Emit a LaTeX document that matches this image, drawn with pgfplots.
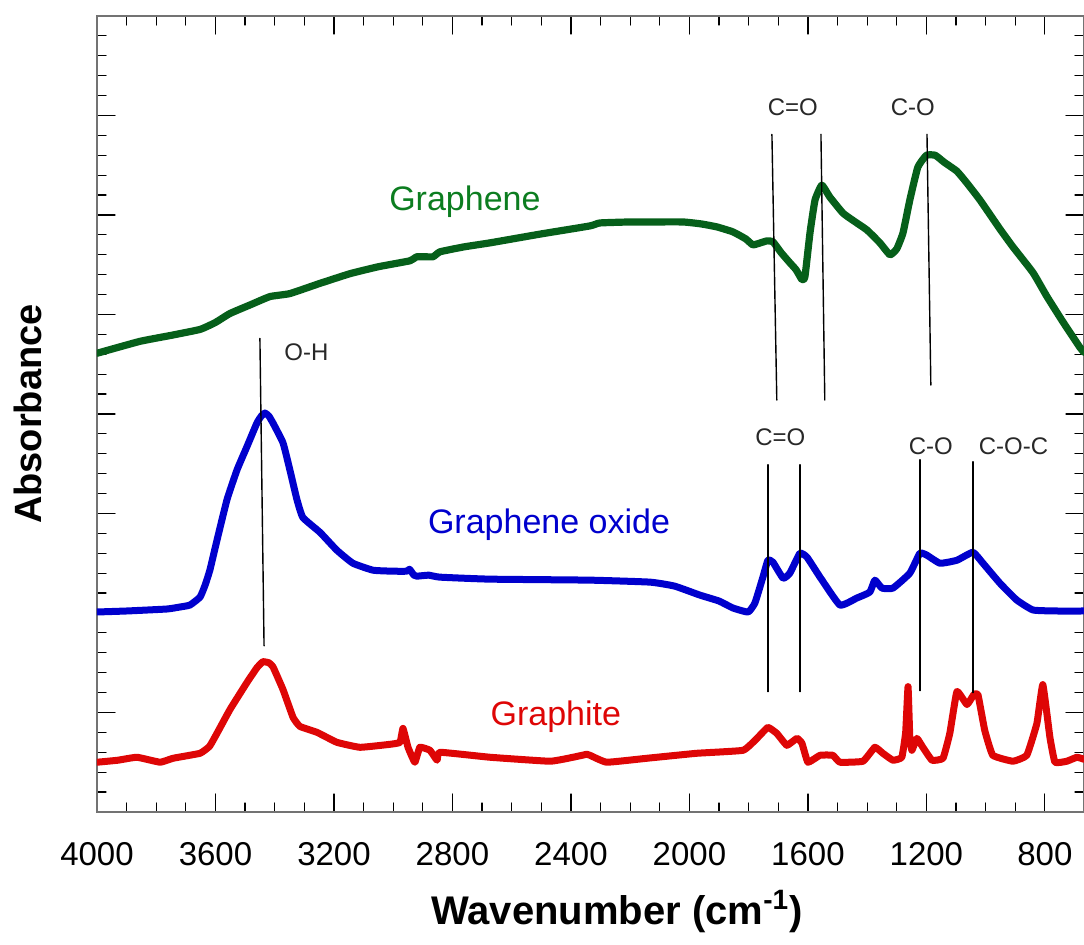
\documentclass[border=0pt]{standalone}
\usepackage{fontspec}
\setmainfont{Liberation Sans}
\usepackage{pgfplots}
\pgfplotsset{compat=1.18}
\definecolor{gline}{RGB}{6,95,26}
\definecolor{gtext}{RGB}{12,125,32}
\definecolor{bline}{RGB}{0,0,205}
\definecolor{rline}{RGB}{222,6,6}
\definecolor{anno}{RGB}{40,40,40}
\begin{document}
\begin{tikzpicture}
\useasboundingbox (-48.5pt,-66.5pt) rectangle (493.5pt,406pt);
\begin{axis}[
  at={(0,0)}, anchor=south west,
  scale only axis, width=493.5pt, height=398pt,
  x dir=reverse, xmin=668, xmax=4000,
  ymin=0, ymax=8,
  xtick={800,1200,...,4000}, minor x tick num=3,
  ytick={0,1,...,8}, yticklabels={}, minor y tick num=4,
  tick align=inside,
  major tick length=9pt, minor tick length=4.5pt,
  axis line style={draw=black!55, line width=1pt},
  tick style={black, line width=0.6pt},
  /pgf/number format/assume math mode=true,
  /pgf/number format/1000 sep={},
  tick label style={font=\fontsize{16.5}{19}\selectfont},
  xticklabel style={yshift=-11.5pt},
  line join=round, line cap=round,
]
% Graphene
\addplot[gline, line width=3.6pt, smooth, tension=0.25] coordinates {
(4000,4.61) (3855,4.73) (3750,4.79) (3652,4.85) (3600,4.92) (3551,5.01) (3480,5.10) (3416,5.18) (3349,5.21) (3250,5.31) (3146,5.41) (3050,5.48) (2943,5.54) (2920,5.58) (2866,5.58) (2842,5.63) (2760,5.68) (2673,5.72) (2500,5.81) (2336,5.89) (2302,5.92) (2200,5.93) (2133,5.93) (2022,5.93) (1960,5.91) (1907,5.88) (1853,5.83) (1810,5.76) (1786,5.70) (1760,5.72) (1738,5.74) (1718,5.73) (1690,5.62) (1661,5.52) (1640,5.45) (1620,5.35) (1610,5.38) (1593,5.82) (1576,6.15) (1553,6.30) (1526,6.18) (1482,6.02) (1450,5.95) (1401,5.85) (1357,5.72) (1323,5.60) (1300,5.66) (1279,5.82) (1256,6.15) (1229,6.48) (1200,6.60) (1170,6.60) (1140,6.53) (1097,6.44) (1063,6.32) (1019,6.15) (952,5.86) (908,5.68) (840,5.42) (793,5.18) (740,4.93) (682,4.67) (668,4.62)
};
% Graphene oxide
\addplot[bline, line width=3.5pt, smooth, tension=0.25] coordinates {
(4000,2.01) (3900,2.02) (3764,2.04) (3720,2.06) (3686,2.08) (3652,2.16) (3635,2.28) (3619,2.43) (3595,2.73) (3561,3.14) (3527,3.44) (3494,3.67) (3460,3.91) (3445,3.98) (3433,4.01) (3420,3.98) (3406,3.91) (3372,3.71) (3349,3.44) (3325,3.14) (3305,2.96) (3247,2.81) (3190,2.63) (3136,2.50) (3068,2.43) (3000,2.42) (2954,2.42) (2945,2.44) (2930,2.38) (2920,2.37) (2880,2.38) (2842,2.36) (2673,2.34) (2336,2.33) (2133,2.31) (2050,2.27) (1965,2.18) (1900,2.12) (1853,2.05) (1802,2.01) (1779,2.10) (1752,2.36) (1735,2.53) (1718,2.51) (1684,2.35) (1661,2.40) (1627,2.60) (1603,2.56) (1559,2.36) (1492,2.08) (1435,2.15) (1391,2.21) (1374,2.33) (1350,2.25) (1313,2.25) (1256,2.40) (1222,2.60) (1198,2.58) (1154,2.50) (1097,2.53) (1043,2.61) (1009,2.50) (952,2.30) (895,2.13) (840,2.03) (760,2.02) (668,2.02)
};
% Graphite
\addplot[rline, line width=3.5pt, smooth, tension=0.2] coordinates {
(4000,0.50) (3930,0.52) (3865,0.55) (3787,0.50) (3743,0.54) (3652,0.59) (3620,0.66) (3595,0.79) (3551,1.03) (3494,1.30) (3460,1.45) (3440,1.51) (3420,1.50) (3406,1.46) (3372,1.23) (3338,0.95) (3315,0.86) (3257,0.80) (3190,0.70) (3112,0.65) (3011,0.68) (2977,0.70) (2967,0.84) (2950,0.65) (2927,0.50) (2910,0.65) (2876,0.62) (2852,0.52) (2842,0.60) (2673,0.55) (2471,0.51) (2393,0.55) (2346,0.58) (2336,0.57) (2279,0.50) (2143,0.54) (1975,0.59) (1819,0.62) (1772,0.74) (1735,0.85) (1705,0.79) (1671,0.67) (1637,0.74) (1620,0.69) (1600,0.50) (1559,0.57) (1516,0.57) (1492,0.50) (1414,0.51) (1374,0.65) (1347,0.59) (1313,0.52) (1283,0.55) (1270,0.80) (1262,1.26) (1256,0.75) (1249,0.62) (1232,0.74) (1212,0.65) (1181,0.52) (1144,0.54) (1121,0.79) (1097,1.21) (1063,1.08) (1040,1.18) (1026,1.18) (1003,0.82) (976,0.57) (908,0.51) (861,0.57) (827,0.89) (807,1.28) (783,0.75) (766,0.50) (726,0.51) (692,0.55) (668,0.53)
};
% annotation lines
\addplot[black, line width=0.7pt] coordinates {(3450,4.76) (3436,1.67)};
\addplot[black, line width=0.7pt] coordinates {(1721.5,6.81) (1705,4.14)};
\addplot[black, line width=0.7pt] coordinates {(1556,6.81) (1543,4.14)};
\addplot[black, line width=0.7pt] coordinates {(1198,6.81) (1185,4.29)};
\addplot[black, line width=0.7pt] coordinates {(1735,3.49) (1735,1.21)};
\addplot[black, line width=0.7pt] coordinates {(1627,3.49) (1627,1.21)};
\addplot[black, line width=0.7pt] coordinates {(1222,3.54) (1222,1.22)};
\addplot[black, line width=0.7pt] coordinates {(1043,3.52) (1043,1.20)};
% labels
\node[anchor=base, text=gtext, font=\fontsize{17}{20}\selectfont] at (axis cs:2758,6.05) {Graphene};
\node[anchor=base, text=bline, font=\fontsize{17}{20}\selectfont] at (axis cs:2474,2.80) {Graphene oxide};
\node[anchor=base, text=rline, font=\fontsize{17}{20}\selectfont] at (axis cs:2451,0.874) {Graphite};
\node[anchor=base, text=anno, font=\fontsize{12}{14}\selectfont] at (axis cs:1651,6.995) {C=O};
\node[anchor=base, text=anno, font=\fontsize{12}{14}\selectfont] at (axis cs:1246,6.995) {C-O};
\node[anchor=base, text=anno, font=\fontsize{12}{14}\selectfont] at (axis cs:1693,3.68) {C=O};
\node[anchor=base, text=anno, font=\fontsize{12}{14}\selectfont] at (axis cs:1185,3.59) {C-O};
\node[anchor=base, text=anno, font=\fontsize{12}{14}\selectfont] at (axis cs:906,3.59) {C-O-C};
\node[anchor=base, text=anno, font=\fontsize{12}{14}\selectfont] at (axis cs:3293,4.54) {O-H};
\end{axis}
\node[anchor=base, font=\bfseries\fontsize{20}{24}\selectfont] at (260pt,-56.5pt) {Wavenumber (cm\textsuperscript{-1})};
\node[anchor=base, rotate=90, font=\bfseries\fontsize{19}{23}\selectfont] at (-27.5pt,199pt) {Absorbance};
\end{tikzpicture}
\end{document}
